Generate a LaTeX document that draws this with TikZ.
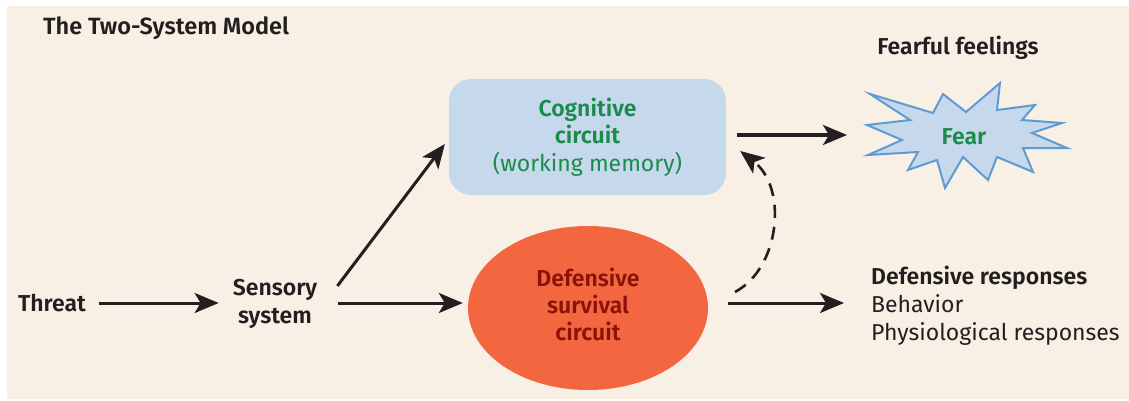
\documentclass[tikz,border=0pt]{standalone}
\usepackage{fontspec}
\setmainfont{Fira Sans}[BoldFont={Fira Sans SemiBold}]
\usetikzlibrary{arrows.meta,shapes.geometric}
\definecolor{bgc}{HTML}{F8F0E4}
\definecolor{boxblue}{HTML}{C5D8EC}
\definecolor{starline}{HTML}{5E9BD3}
\definecolor{txtgreen}{HTML}{1B8B4B}
\definecolor{ellred}{HTML}{F26640}
\definecolor{darkred}{HTML}{8A1209}
\definecolor{ink}{HTML}{231F20}
\tikzset{
  lbl/.style={inner sep=0pt, text=ink, font=\fontsize{23}{28}\selectfont},
  arr/.style={draw=ink, line width=3pt, -{Stealth[length=24pt,width=20pt,inset=6pt]}},
  darr/.style={draw=ink, line width=2.6pt, dash pattern=on 13pt off 9pt, -{Stealth[length=24pt,width=20pt,inset=6pt]}},
}
\begin{document}
\begin{tikzpicture}[x=1pt,y=-1pt]
\useasboundingbox (0,0) rectangle (1129,401);
\fill[white] (0,0) rectangle (1129,401);
\fill[bgc] (7,6) rectangle (1129,399);

\node[lbl, font=\fontsize{23.5}{28}\selectfont\bfseries, anchor=base west] (title) at (43,35) {The Two-System Model};
\node[lbl, font=\fontsize{23}{28}\selectfont\bfseries] (feel) at (958,48) {Fearful feelings};

\node[rectangle, rounded corners=22pt, fill=boxblue, minimum width=277pt, minimum height=116pt,
      align=center, text=txtgreen, font=\fontsize{23}{27.5}\selectfont, inner sep=0pt] (cog) at (587.5,137)
  {\bfseries Cognitive\\ \bfseries circuit\\ (working memory)};

\node[ellipse, fill=ellred, minimum width=240pt, minimum height=164pt, inner sep=0pt] (surv) at (588,308) {};
\node[lbl, align=center, text=darkred, font=\fontsize{23}{27}\selectfont\bfseries] (survt) at (588,304)
  {Defensive\\ survival\\ circuit};

\fill[boxblue, draw=starline, line width=2pt, line join=miter]
  (870,94) -- (933,113) -- (943,94) -- (966,112) -- (1000,83) -- (997,110) -- (1035,105) --
  (1022,120) -- (1062,123) -- (1032,133) -- (1067,148) -- (1023,148) -- (1033,172) --
  (997,157) -- (988,180) -- (963,157) -- (945,188) -- (937,160) -- (908,170) -- (918,152) --
  (868,155) -- (902,140) -- (867,125) -- (910,120) -- cycle;
\node[lbl, text=txtgreen, font=\fontsize{23}{28}\selectfont\bfseries] (fear) at (964,137) {Fear};

\node[lbl, font=\fontsize{23}{28}\selectfont\bfseries] (threat) at (52,303) {Threat};
\node[lbl, align=center, font=\fontsize{23}{28}\selectfont\bfseries] (sens) at (275,304) {Sensory\\ system};

\node[lbl, align=left, anchor=base west] (def) at (871,340)
  {\bfseries Defensive responses\\ Behavior\\ Physiological responses};

\coordinate (fearin) at (847,135);
\coordinate (defin) at (844,303);
\coordinate (sensout) at (338,303);

\draw[arr, shorten <=13pt, shorten >=14pt] (threat.east) -- (threat.east -| sens.west);
\draw[arr] ([xshift=20pt,yshift=18pt]sens.east) -- ([xshift=-4pt,yshift=-7pt]cog.west);
\draw[arr, shorten >=5pt] (sensout) -- (sensout -| surv.west);
\draw[arr, shorten <=11pt] (cog.east |- fearin) -- (fearin);
\draw[arr, shorten <=20pt] (surv.east |- defin) -- (defin);
\draw[darr] (735,292) .. controls (780,268) and (788,188) .. ([xshift=14pt,yshift=-14pt]cog.east);
\end{tikzpicture}
\end{document}
